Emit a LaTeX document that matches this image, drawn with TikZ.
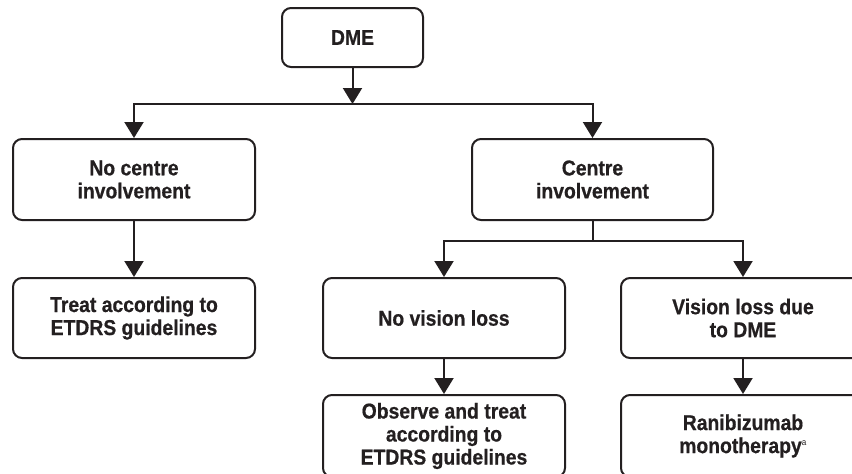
\documentclass[tikz,border=0pt]{standalone}
\usepackage{fontspec}
\newfontfamily\boxfont[FakeStretch=0.9, BoldFeatures={FakeBold=0.6}]{Liberation Sans}
\usetikzlibrary{arrows.meta}
\definecolor{ink}{HTML}{231F20}
\tikzset{
  box/.style={draw=ink, line width=2pt, rounded corners=9pt, align=center,
    text=ink, inner sep=0pt, minimum width=242pt, minimum height=80pt,
    font=\boxfont\bfseries\fontsize{21.5}{23}\selectfont},
  arr/.style={draw=ink, line width=2pt, -{Triangle[length=16pt,width=19pt]}},
  link/.style={draw=ink, line width=2pt}
}
\begin{document}
\begin{tikzpicture}[x=1pt,y=-1pt]
\useasboundingbox (0,0) rectangle (852,474);
\clip (0,0) rectangle (852,474);
\fill[white] (0,0) rectangle (852,474);
\node[box, minimum width=141pt, minimum height=59pt] (dme) at (352.5,37.5) {DME};
\node[box, minimum height=81pt] (nocentre) at (134,179.5) {No centre\\involvement};
\node[box, minimum width=241pt, minimum height=81pt] (centre) at (592.5,179.5) {Centre\\involvement};
\node[box] (treat) at (134,318) {Treat according to\\ETDRS guidelines};
\node[box] (novision) at (444,318) {No vision loss};
\node[box, minimum width=244pt] (visionloss) at (743,318) {Vision loss due\\to DME};
\node[box, minimum height=82pt] (observe) at (444,436) {Observe and treat\\according to\\ETDRS guidelines};
\node[box, minimum width=244pt, minimum height=82pt] (rani) at (743,436) {Ranibizumab\\monotherapy\textsuperscript{\mdseries\fontsize{9}{9}\selectfont a}};
\coordinate (j1) at (352.5,104);
\coordinate (j2) at (592.5,241);
\draw[arr] (dme.south) -- (j1);
\draw[arr] (j1) -| (nocentre.north);
\draw[arr] (j1) -| (centre.north);
\draw[arr] (nocentre.south) -- (treat.north);
\draw[link] (centre.south) -- (j2);
\draw[arr] (j2) -| (novision.north);
\draw[arr] (j2) -| (visionloss.north);
\draw[arr] (novision.south) -- (observe.north);
\draw[arr] (visionloss.south) -- (rani.north);
\end{tikzpicture}
\end{document}
